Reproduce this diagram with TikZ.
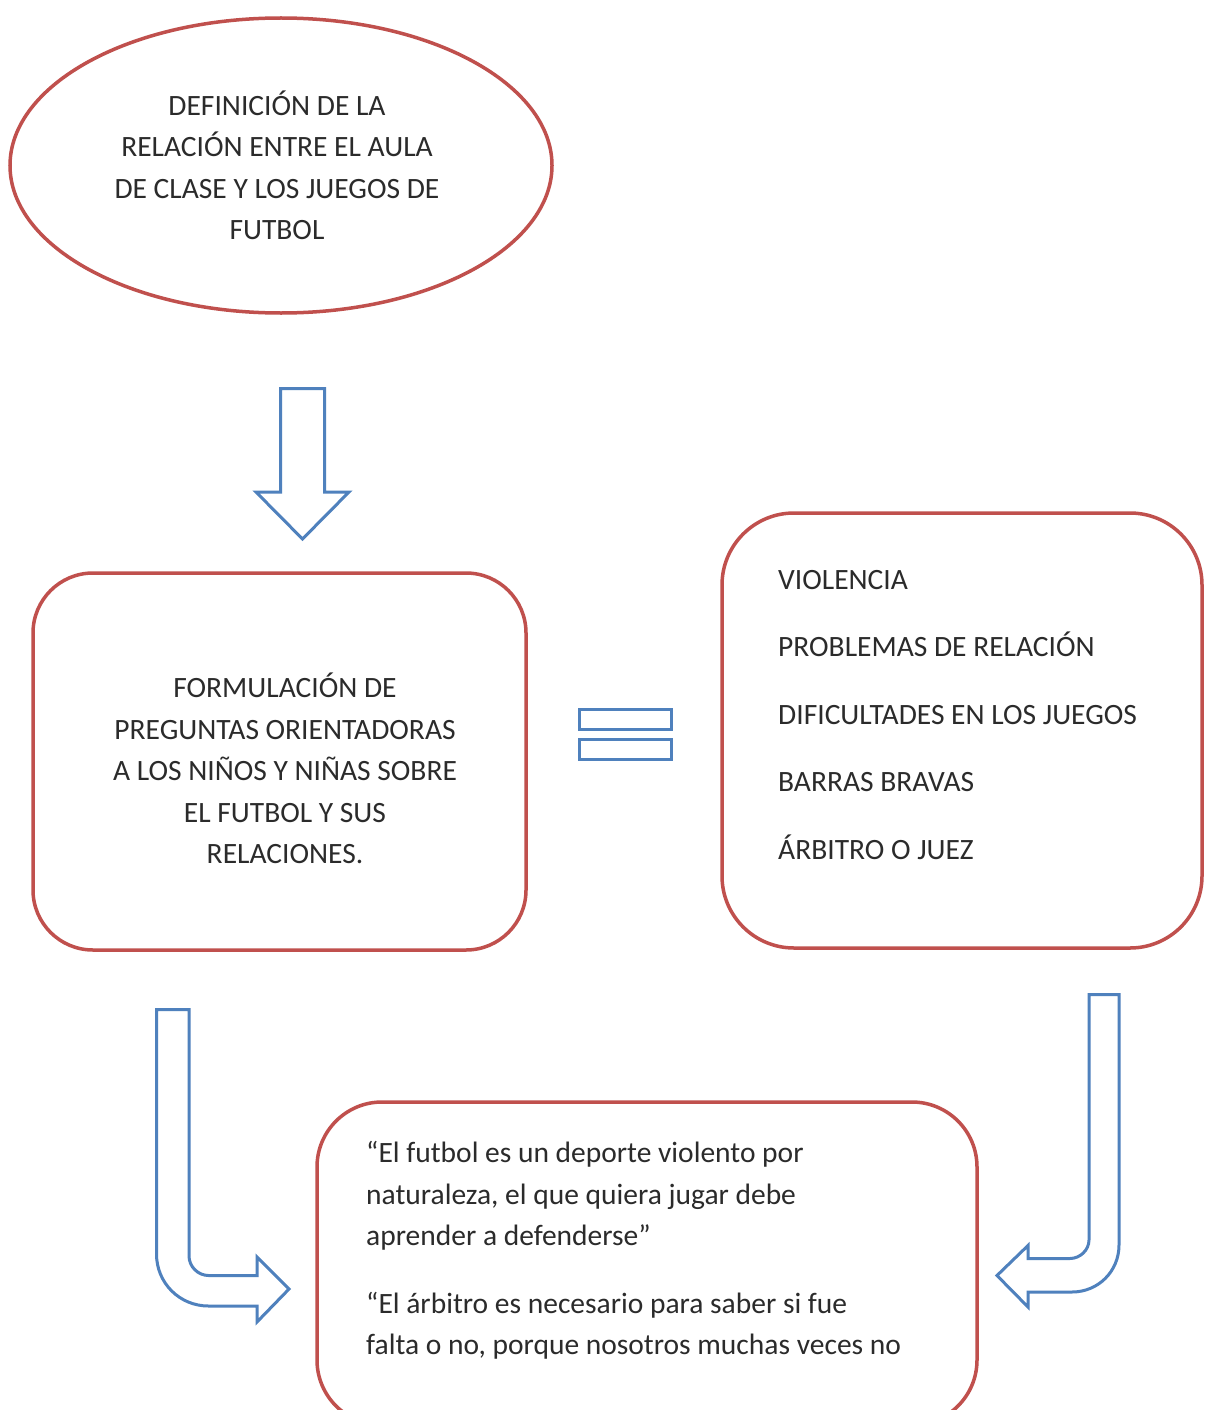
\documentclass[tikz,border=0pt]{standalone}
\usepackage{fontspec}
\setmainfont{Carlito}
\usetikzlibrary{shapes.geometric}
\definecolor{rd}{HTML}{C0504D}
\definecolor{bl}{HTML}{4F81BD}
\definecolor{tx}{HTML}{2B2B2B}
\begin{document}
\begin{tikzpicture}[x=1pt,y=-1pt,
  redline/.style={draw=rd,line width=3.5pt},
  shapebox/.style={redline,rectangle,rounded corners=#1,inner sep=0pt},
  blockarrow/.style={draw=bl,line width=3pt,fill=white},
  eqbar/.style={draw=bl,line width=3pt,rectangle,inner sep=0pt,minimum width=92pt,minimum height=20pt},
  txt/.style={text=tx,inner sep=0pt,font=\fontsize{29.5}{41.5}\selectfont},
]
\fill[white] (0,0) rectangle (1204,1410);
\useasboundingbox (0,0) rectangle (1204,1410);

% shapes
\node[redline, ellipse, minimum width=542pt, minimum height=295pt, inner sep=0pt] (ell) at (281,165.5) {};
\node[shapebox=60pt, minimum width=493pt, minimum height=377pt] (form) at (279.5,761.5) {};
\node[shapebox=72pt, minimum width=480pt, minimum height=435pt] (list) at (962,730.5) {};
\begin{scope}
  \clip (0,0) rectangle (1204,1410);
  \node[shapebox=65pt, minimum width=660pt, minimum height=323pt] (quote) at (647,1263.5) {};
\end{scope}

% equals sign
\node[eqbar] (eq1) at (625.5,719) {};
\node[eqbar] (eq2) at (625.5,749) {};

% block arrows
\draw[blockarrow] (280.5,388.5) -- (324.5,388.5) -- (324.5,492) -- (349,492) -- (302.5,539) -- (256,492) -- (280.5,492) -- cycle;

\draw[blockarrow] (156.5,1009.5) -- (189,1009.5) -- (189,1256)
  .. controls (189,1266.5) and (198,1275.5) .. (208.5,1275.5)
  -- (257,1275.5) -- (257,1257) -- (289,1289) -- (257,1322) -- (257,1306) -- (208.5,1306)
  .. controls (179.5,1306) and (156.5,1283) .. (156.5,1254) -- cycle;

\draw[blockarrow] (1089,994.5) -- (1119,994.5) -- (1119,1245)
  .. controls (1119,1271.5) and (1098,1292) .. (1072,1292)
  -- (1028,1292) -- (1028,1307) -- (997,1275.5) -- (1028,1245.5) -- (1028,1258.5) -- (1070,1258.5)
  .. controls (1080,1258.5) and (1089,1250) .. (1089,1240) -- cycle;

% texts
\node[txt, align=center] (t1) at (277,165.5) {DEFINICIÓN DE LA\\RELACIÓN ENTRE EL AULA\\DE CLASE Y LOS JUEGOS DE\\FUTBOL};
\node[txt, align=center] (t2) at (285,768.5) {FORMULACIÓN DE\\PREGUNTAS ORIENTADORAS\\A LOS NIÑOS Y NIÑAS SOBRE\\EL FUTBOL Y SUS\\RELACIONES.};
\node[txt, align=left, anchor=west, font=\fontsize{29.5}{67.5}\selectfont] (t3) at (778,715) {VIOLENCIA\\PROBLEMAS DE RELACIÓN\\DIFICULTADES EN LOS JUEGOS\\BARRAS BRAVAS\\ÁRBITRO O JUEZ};
\node[txt, align=left, anchor=west] (t4) at (366,1196) {“El futbol es un deporte violento por\\naturaleza, el que quiera jugar debe\\aprender a defenderse”};
\node[txt, align=left, anchor=west] (t5) at (366,1325.5) {“El árbitro es necesario para saber si fue\\falta o no, porque nosotros muchas veces no};
\end{tikzpicture}
\end{document}
